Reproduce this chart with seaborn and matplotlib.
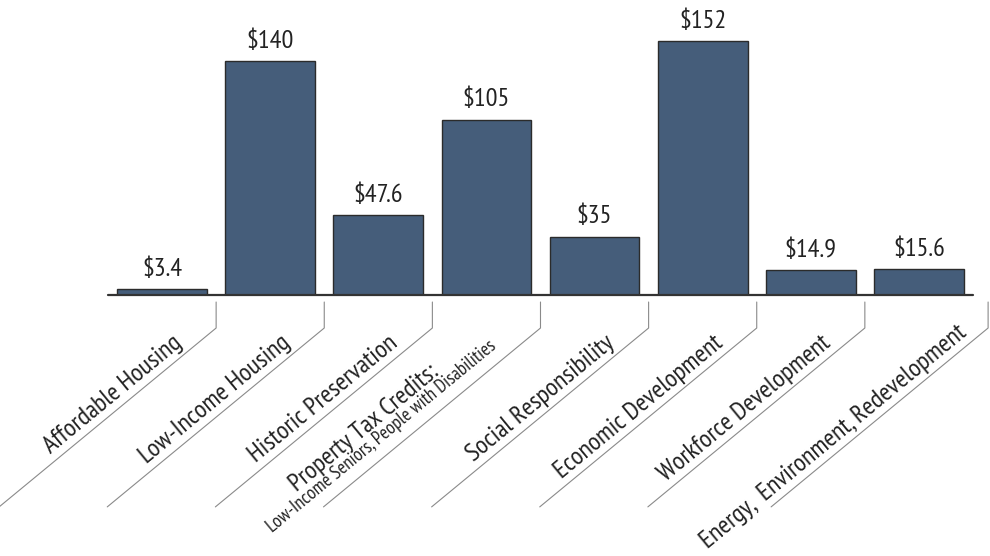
import matplotlib
matplotlib.use("Agg")
import matplotlib.pyplot as plt
import seaborn as sns
import pandas as pd
import numpy as np
from matplotlib.lines import Line2D

categories = ["Affordable Housing", "Low-Income Housing", "Historic Preservation",
              "Property Tax Credits:", "Social Responsibility", "Economic Development",
              "Workforce Development", "Energy,  Environment, Redevelopment"]
subtitles = ["", "", "", "Low-Income Seniors, People with Disabilities", "", "", "", ""]
values = [3.4, 140, 47.6, 105, 35, 152, 14.9, 15.6]
value_labels = ["$3.4", "$140", "$47.6", "$105", "$35", "$152", "$14.9", "$15.6"]

bar_color = "#455d7a"
angle = 39.5

sns.set_style("white")
plt.rcParams['font.family'] = ['PT Sans Narrow', 'Archivo Narrow', 'Barlow Condensed', 'DejaVu Sans']

fig = plt.figure(figsize=(9.9, 5.56), dpi=100)
ax = fig.add_axes([0.1091, 0.4694, 0.8737, 0.4959])

df = pd.DataFrame({"cat": categories, "val": values})
sns.barplot(data=df, x="cat", y="val", color=bar_color, edgecolor="#2b2b2b",
            linewidth=1, width=0.83, saturation=1, ax=ax)
ax.set_xlim(-0.5, 7.5)
ax.set_ylim(0, 165)
ax.set_axis_off()
ax.axhline(0, color="#333333", lw=1.6, clip_on=False)

ax.bar_label(ax.containers[0], labels=value_labels, padding=6, fontsize=19,
             color="#222222")

# separator lines under the axis
seps = np.arange(len(values)) + 0.5
seps[-1] += 0.14
inv = fig.transFigure.inverted()
ca, sa = np.cos(np.radians(angle)), np.sin(np.radians(angle))
for s in seps:
    x0, y0 = ax.transData.transform((s, 0))
    pts = [(x0, y0 - 7), (x0, y0 - 33), (x0 - 217, y0 - 33 - 217 * np.tan(np.radians(angle)))]
    pts = inv.transform(pts)
    fig.add_artist(Line2D(pts[:, 0], pts[:, 1], transform=fig.transFigure,
                          color="#8a8a8a", lw=0.8))

def place(along, perp):
    return (-along * ca - perp * sa, -33 - along * sa + perp * ca)

for i, (lab, sub) in enumerate(zip(categories, subtitles)):
    if sub:
        off = place(107, 29)
    elif i == len(categories) - 1:
        off = place(20, 8)   # long label, keep it inside the figure
    else:
        off = place(36, 8)
    ax.annotate(lab, xy=(seps[i], 0), xytext=off, textcoords="offset pixels",
                rotation=angle, rotation_mode="anchor", ha="right", va="baseline",
                fontsize=18.5, color="#222222", annotation_clip=False)
    if sub:
        ax.annotate(sub, xy=(seps[i], 0), xytext=place(46, 12), textcoords="offset pixels",
                    rotation=angle, rotation_mode="anchor", ha="right", va="baseline",
                    fontsize=13.5, color="#222222", annotation_clip=False)

fig.savefig("out.png", dpi=100)
